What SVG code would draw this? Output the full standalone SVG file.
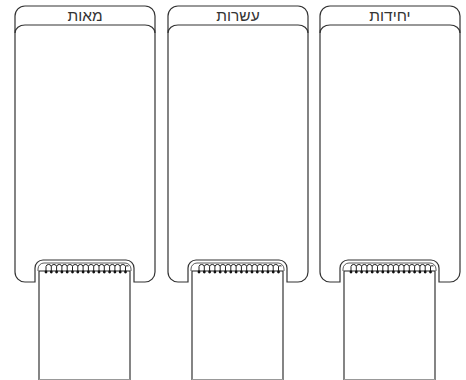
<svg xmlns="http://www.w3.org/2000/svg" xmlns:xlink="http://www.w3.org/1999/xlink" width="466" height="380" viewBox="0 0 466 380">
<style>
.line{fill:none;stroke:#333;stroke-width:1.2}
.page{fill:#fff;stroke:#222;stroke-width:1.1}
.ring{fill:none;stroke:#222;stroke-width:1}
.dot{fill:#111}
.lbl{font-family:"DejaVu Sans","Liberation Sans",sans-serif;font-size:15.5px;font-weight:300;fill:#333;text-anchor:middle}
</style>
<defs>
<g id="rings">
<path class="ring" d="M46,272 V266.5 A2.7,2.5 0 0 1 51.3,266.5 M51.3,272 V266.5 A2.7,2.5 0 0 1 56.6,266.5 M56.6,272 V266.5 A2.7,2.5 0 0 1 61.9,266.5 M61.9,272 V266.5 A2.7,2.5 0 0 1 67.2,266.5 M67.2,272 V266.5 A2.7,2.5 0 0 1 72.5,266.5 M72.5,272 V266.5 A2.7,2.5 0 0 1 77.8,266.5 M77.8,272 V266.5 A2.7,2.5 0 0 1 83.1,266.5 M83.1,272 V266.5 A2.7,2.5 0 0 1 88.4,266.5 M88.4,272 V266.5 A2.7,2.5 0 0 1 93.7,266.5 M93.7,272 V266.5 A2.7,2.5 0 0 1 99,266.5 M99,272 V266.5 A2.7,2.5 0 0 1 104.3,266.5 M104.3,272 V266.5 A2.7,2.5 0 0 1 109.6,266.5 M109.6,272 V266.5 A2.7,2.5 0 0 1 114.9,266.5 M114.9,272 V266.5 A2.7,2.5 0 0 1 120.2,266.5 M120.2,272 V266.5 A2.7,2.5 0 0 1 125.5,266.5 M125.5,272 V266.5 A2.5,2.5 0 0 1 128.5,266"/>
<g class="dot">
<circle cx="46" cy="272" r="1.4"/><circle cx="51.3" cy="272" r="1.4"/><circle cx="56.6" cy="272" r="1.4"/><circle cx="61.9" cy="272" r="1.4"/>
<circle cx="67.2" cy="272" r="1.4"/><circle cx="72.5" cy="272" r="1.4"/><circle cx="77.8" cy="272" r="1.4"/><circle cx="83.1" cy="272" r="1.4"/>
<circle cx="88.4" cy="272" r="1.4"/><circle cx="93.7" cy="272" r="1.4"/><circle cx="99" cy="272" r="1.4"/><circle cx="104.3" cy="272" r="1.4"/>
<circle cx="109.6" cy="272" r="1.4"/><circle cx="114.9" cy="272" r="1.4"/><circle cx="120.2" cy="272" r="1.4"/><circle cx="125.5" cy="272" r="1.4"/>
</g>
</g>
<g id="column">
<path class="line" d="M15,16 A10,10 0 0 1 25,6 H145 A10,10 0 0 1 155,16 V272 A10,10 0 0 1 145,282 H134 V268 A8,8 0 0 0 126,260 H43 A8,8 0 0 0 35,268 V282 H25 A10,10 0 0 1 15,272 Z"/>
<path class="line" d="M15,33 A10,8 0 0 1 25,25 H145 A10,8 0 0 1 155,33"/>
<path class="page" d="M39,380 V271 H130 V380"/>
<path class="line" d="M38,271 V269 A6,6 0 0 1 44,263 H125 A6,6 0 0 1 131,269 V271" style="stroke-width:0.8"/>
<use xlink:href="#rings"/>
<line x1="39" y1="379.5" x2="130" y2="379.5" stroke="#999" stroke-width="1"/>
</g>
</defs>
<g id="connectors"></g>
<g id="hundreds">
<use xlink:href="#column"/>
<text class="lbl" x="85" y="21">מאות</text>
</g>
<g id="tens" transform="translate(153,0)">
<use xlink:href="#column"/>
<text class="lbl" x="85" y="21">עשרות</text>
</g>
<g id="units" transform="translate(305,0)">
<use xlink:href="#column"/>
<text class="lbl" x="85" y="21">יחידות</text>
</g>
</svg>
